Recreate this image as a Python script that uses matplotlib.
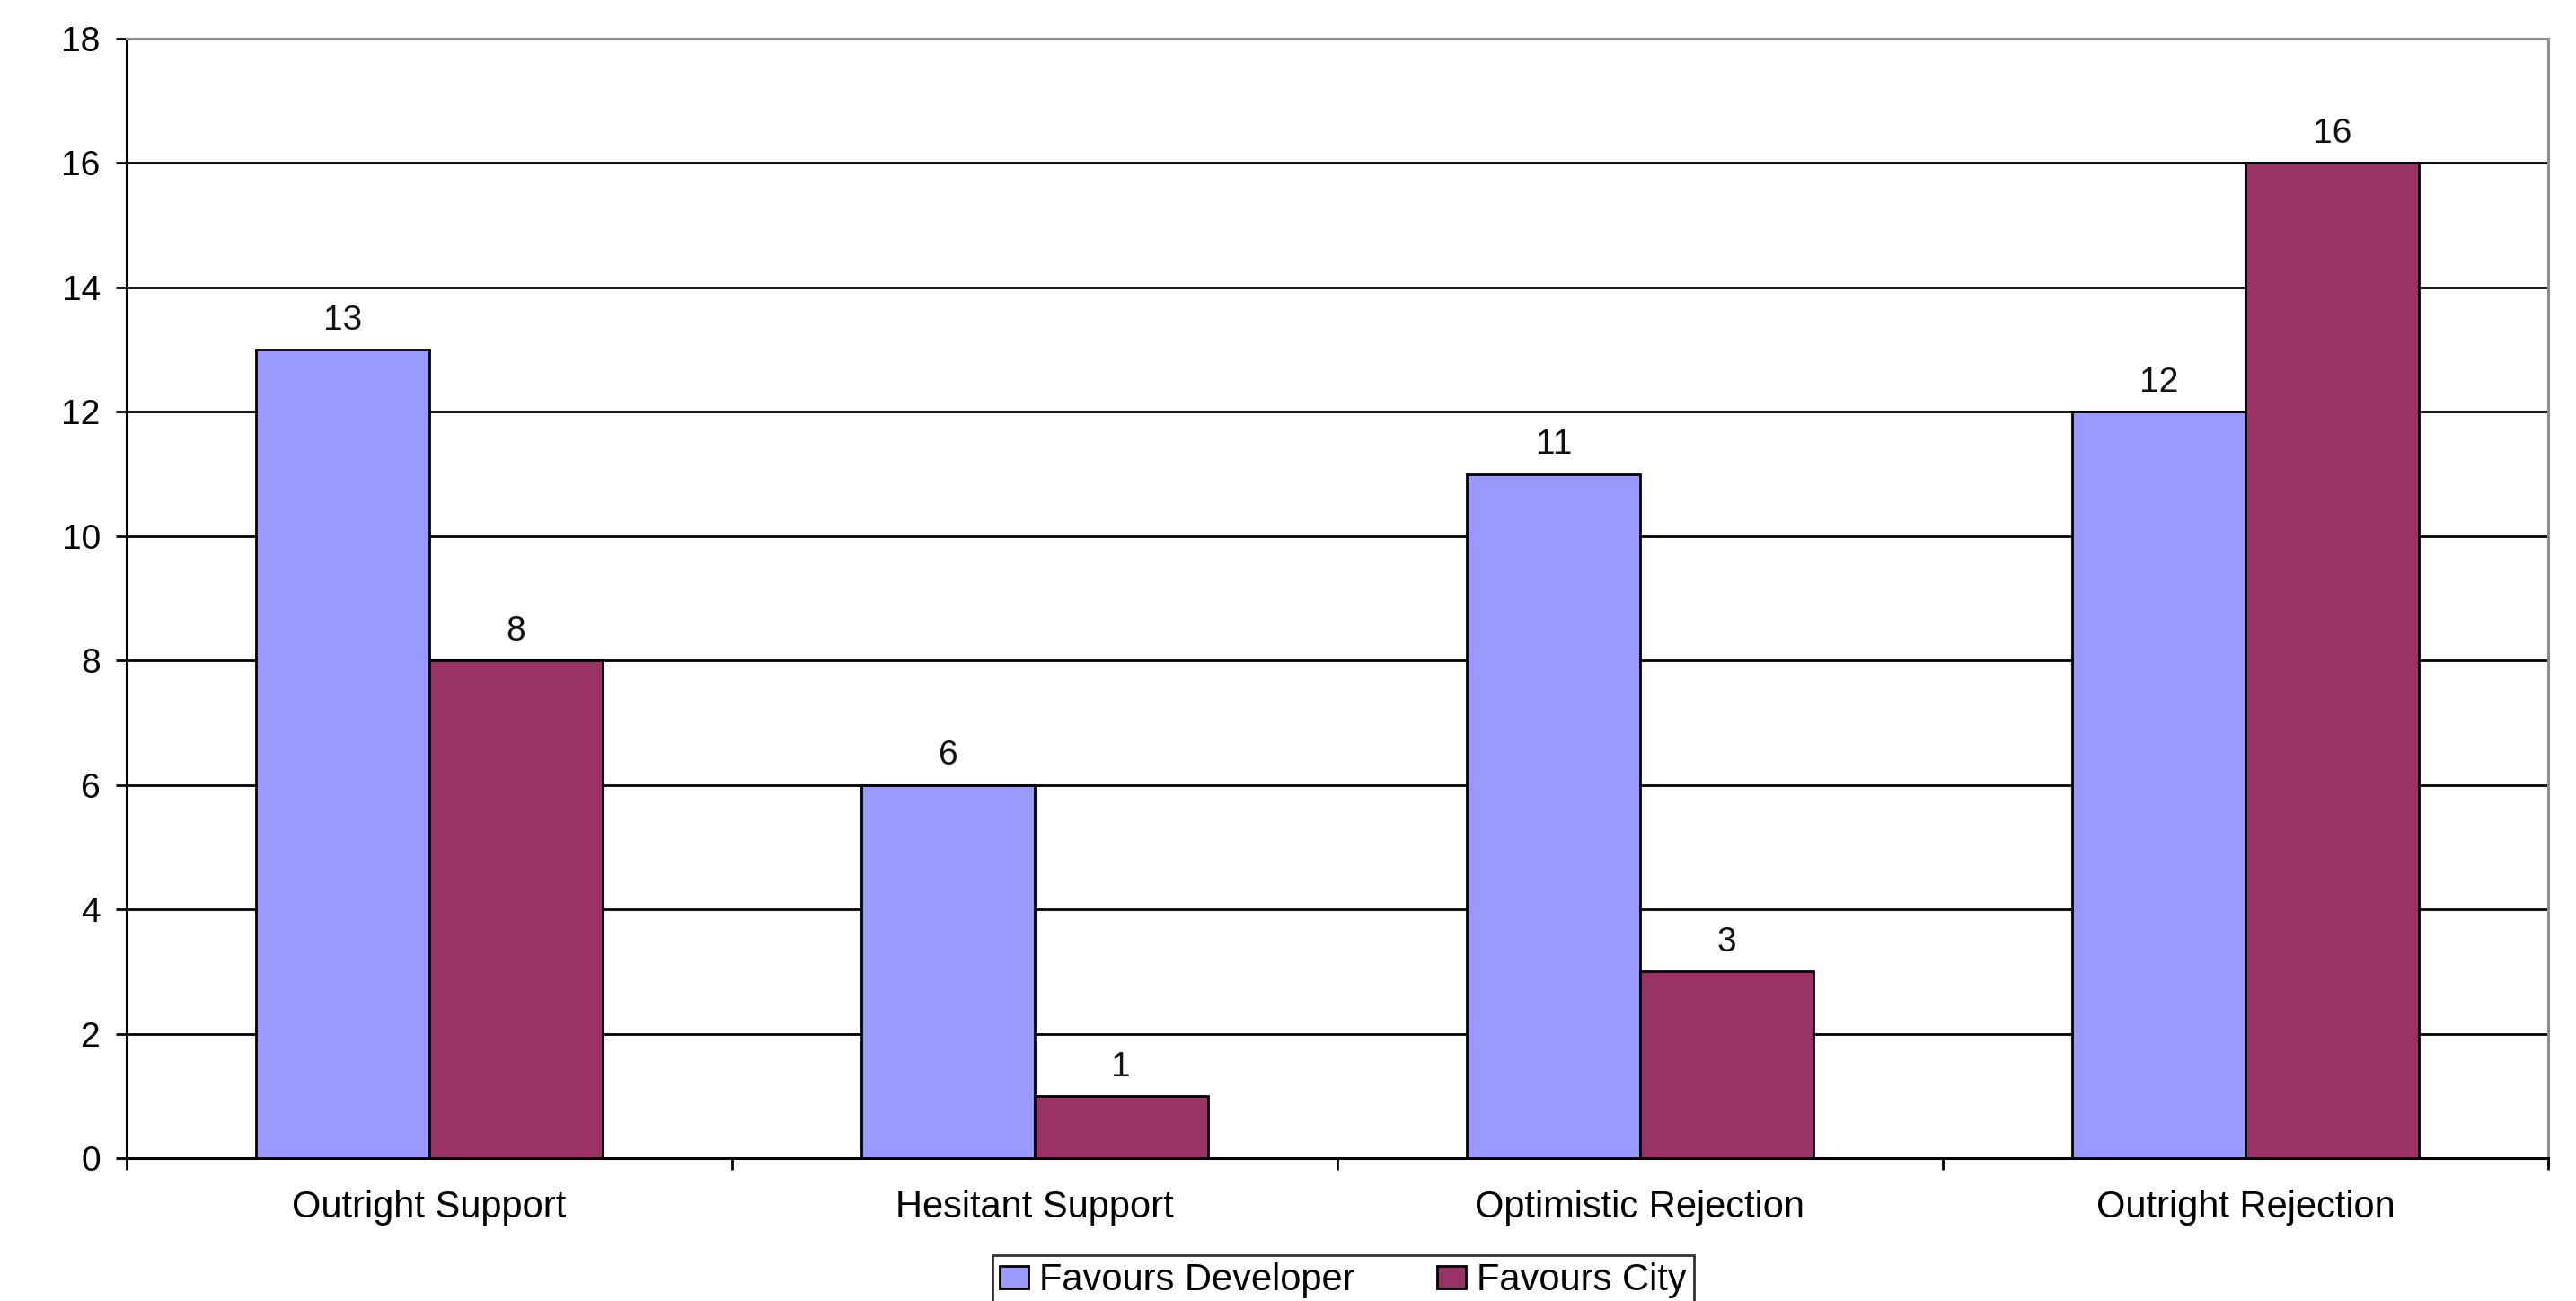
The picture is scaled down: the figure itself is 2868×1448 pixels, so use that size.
import numpy as np
import matplotlib
matplotlib.use('Agg')
import matplotlib.pyplot as plt

# data
categories = ['Outright Support', 'Hesitant Support', 'Optimistic Rejection', 'Outright Rejection']
developer = [13, 6, 11, 12]
city = [8, 1, 3, 16]
series_names = ['Favours Developer', 'Favours City']
y_ticks = [0, 2, 4, 6, 8, 10, 12, 14, 16, 18]

plt.rcParams['font.family'] = ['Liberation Sans', 'DejaVu Sans']

fig = plt.figure(figsize=(28.68, 14.48), dpi=100)
ax = fig.add_axes([141 / 2868, 1 - 1289 / 1448, 2696 / 2868, 1246 / 1448])

x = np.arange(len(categories))
w = 1 / 3.5  # Excel gap width 150%

b1 = ax.bar(x - w / 2, developer, w, color='#9999FF', edgecolor='black', linewidth=2, zorder=3,
            label=series_names[0])
b2 = ax.bar(x + w / 2, city, w, color='#993366', edgecolor='black', linewidth=2, zorder=3,
            label=series_names[1])

for bars in (b1, b2):
    for r in bars:
        ax.annotate(str(int(r.get_height())), (r.get_x() + r.get_width() / 2, r.get_height()),
                    xytext=(0, 16), textcoords='offset points', ha='center', va='baseline',
                    fontsize=28, color='#111111')

ax.set_xlim(-0.5, len(categories) - 0.5)
ax.set_ylim(0, 18)
ax.set_yticks(y_ticks)
ax.tick_params(axis='y', labelsize=28, length=9, width=2, pad=12, direction='out')

# category boundaries get ticks, labels sit at the centres
ax.set_xticks(np.arange(len(categories) + 1) - 0.5)
ax.set_xticklabels([])
ax.tick_params(axis='x', which='major', length=9, width=2, direction='out')
ax.set_xticks(x, minor=True)
ax.set_xticklabels(categories, minor=True)
ax.tick_params(axis='x', which='minor', length=0, labelsize=30, pad=25)

ax.yaxis.grid(True, color='black', linewidth=2, zorder=1)
gl = ax.yaxis.get_gridlines()
gl[0].set_visible(False)
gl[-1].set_visible(False)

for s in ('left', 'bottom'):
    ax.spines[s].set_color('black')
    ax.spines[s].set_linewidth(2.2)
for s in ('top', 'right'):
    ax.spines[s].set_color('#909090')
    ax.spines[s].set_linewidth(2.2)

leg = fig.legend(loc='upper left', bbox_to_anchor=(1105 / 2868, 1 - 1397 / 1448),
                 ncol=2, fontsize=30, frameon=True, fancybox=False, edgecolor='black',
                 handlelength=0.75, handleheight=0.55, handletextpad=0.3, columnspacing=2.2,
                 borderaxespad=0, borderpad=0.2)
leg.get_frame().set_linewidth(2)

fig.savefig('out.png', dpi=100)
